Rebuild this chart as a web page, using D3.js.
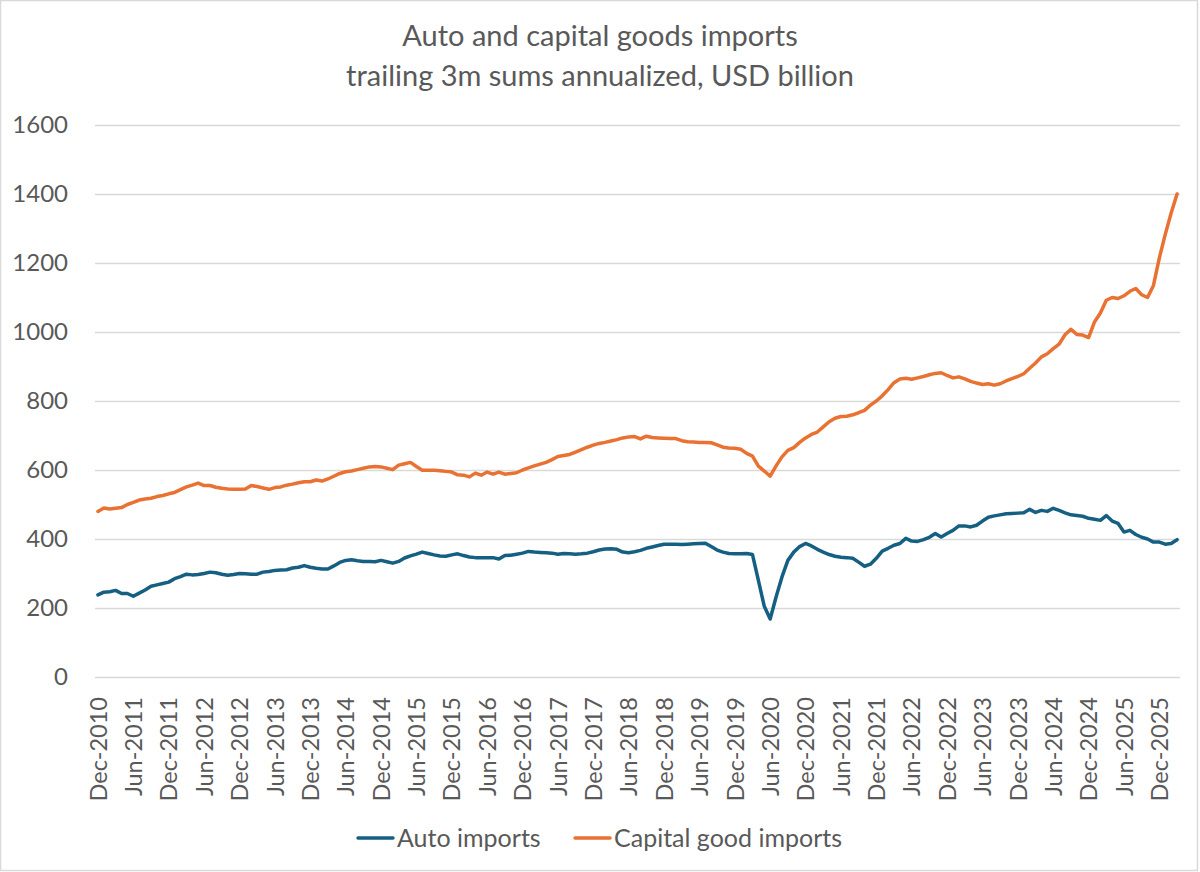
<!DOCTYPE html>
<html>
<head>
<meta charset="utf-8">
<script src="https://cdn.jsdelivr.net/npm/d3@7"></script>
<style>
  html, body { margin: 0; padding: 0; background: #fff; }
  svg { display: block; }
  text { font-family: Lato, "Noto Sans", sans-serif; fill: #595959; }
</style>
</head>
<body>
<div id="chart"></div>
<script>
const TITLE = ['Auto and capital goods imports', 'trailing 3m sums annualized, USD billion'];
const SERIES_NAMES = ['Auto imports', 'Capital good imports'];
const SERIES_COLORS = ['#156082', '#E97132'];

// Monthly categories, Dec-2010 .. Mar-2026
const FIRST_MONTH = new Date(2010, 11, 1);
const LAST_MONTH  = new Date(2026, 2, 1);
const Y_TICKS = [0, 200, 400, 600, 800, 1000, 1200, 1400, 1600];

// Auto imports
const autoImports = [
  238, 246, 247, 251, 242, 242, 234, 243, 252, 263, 267, 271,
  275, 285, 291, 298, 296, 297, 300, 304, 302, 298, 295, 297,
  300, 299, 298, 298, 304, 306, 309, 310, 311, 316, 318, 323,
  318, 315, 313, 313, 322, 332, 338, 340, 337, 335, 335, 334,
  338, 334, 330, 335, 345, 351, 356, 362, 358, 354, 351, 350,
  354, 357, 352, 348, 346, 346, 346, 346, 342, 352, 353, 356,
  359, 364, 362, 361, 360, 359, 356, 358, 357, 356, 357, 359,
  363, 368, 371, 372, 370, 362, 360, 363, 367, 373, 377, 381,
  385, 385, 385, 384, 385, 386, 387, 388, 378, 368, 362, 358,
  357, 357, 358, 355, 280, 205, 168, 232, 290, 338, 362, 378,
  387, 380, 370, 362, 355, 350, 347, 346, 344, 333, 321, 327,
  344, 365, 373, 382, 387, 402, 394, 393, 398, 405, 416, 406,
  416, 425, 438, 438, 435, 440, 452, 463, 467, 470, 473, 474,
  475, 476, 486, 477, 483, 480, 489, 483, 476, 470, 468, 466,
  460, 457, 454, 468, 452, 445, 420, 425, 413, 405, 400, 391,
  391, 385, 387, 398
];

// Capital good imports
const capitalImports = [
  480, 490, 487, 489, 491, 500, 506, 513, 516, 518, 523, 526,
  531, 535, 543, 551, 556, 562, 555, 555, 550, 547, 545, 544,
  544, 545, 555, 552, 548, 544, 549, 551, 556, 559, 563, 566,
  566, 571, 568, 574, 582, 590, 595, 597, 601, 605, 609, 610,
  609, 605, 601, 614, 618, 622, 610, 599, 599, 599, 598, 596,
  594, 586, 585, 580, 591, 585, 594, 588, 594, 588, 590, 592,
  600, 606, 612, 617, 622, 630, 639, 642, 645, 652, 659, 666,
  672, 677, 680, 684, 688, 693, 696, 697, 690, 698, 694, 693,
  692, 691, 691, 685, 682, 681, 680, 680, 679, 673, 666, 664,
  663, 660, 648, 640, 611, 597, 582, 612, 638, 657, 665, 680,
  693, 703, 710, 725, 740, 750, 755, 756, 760, 766, 773, 788,
  800, 815, 833, 853, 864, 866, 863, 867, 871, 876, 880, 882,
  874, 867, 870, 864, 857, 852, 848, 850, 846, 850, 858, 865,
  871, 879, 895, 910, 928, 937, 952, 965, 992, 1008, 993, 991,
  984, 1029, 1055, 1092, 1100, 1097, 1105, 1118, 1126, 1108, 1100, 1135,
  1215, 1283, 1345, 1400
];

const W = 1200, H = 872;
const margin = { top: 125, right: 20, bottom: 195, left: 95 };
const innerW = W - margin.left - margin.right;
const innerH = H - margin.top - margin.bottom;

const months = d3.timeMonth.range(FIRST_MONTH, d3.timeMonth.offset(LAST_MONTH, 1));
const fmt = d3.timeFormat('%b-%Y');
const categories = months.map(fmt);
const tickLabels = categories.filter((d, i) => i % 6 === 0);

const svg = d3.select('#chart').append('svg')
  .attr('width', W)
  .attr('height', H);

// chart area border
svg.append('rect')
  .attr('x', 0.5).attr('y', 0.5)
  .attr('width', W - 3).attr('height', H - 2)
  .attr('fill', '#fff')
  .attr('stroke', '#d9d9d9')
  .attr('stroke-width', 1.5);

const x = d3.scalePoint()
  .domain(categories)
  .range([0, innerW])
  .padding(0.5);

const y = d3.scaleLinear()
  .domain([0, 1600])
  .range([innerH, 0]);

const g = svg.append('g').attr('transform', `translate(${margin.left},${margin.top})`);

// ── Title ────────────────────────────────────────────────────────────────
svg.append('g').selectAll('text')
  .data(TITLE)
  .join('text')
  .attr('x', W / 2)
  .attr('y', (d, i) => 46 + i * 40)
  .attr('text-anchor', 'middle')
  .attr('font-size', '29px')
  .text(d => d);

// ── Y axis + gridlines ───────────────────────────────────────────────────
const yAxis = g.append('g')
  .call(d3.axisLeft(y).tickValues(Y_TICKS).tickSize(-innerW).tickPadding(27).tickFormat(d3.format('d')));
yAxis.select('.domain').remove();
yAxis.selectAll('line').attr('stroke', '#d9d9d9').attr('stroke-width', 1.3);
yAxis.selectAll('text')
  .attr('font-size', '24px')
  .attr('fill', '#595959')
  .attr('font-family', 'Lato, "Noto Sans", sans-serif');

// ── X axis ───────────────────────────────────────────────────────────────
const xAxis = g.append('g')
  .attr('transform', `translate(0,${innerH})`)
  .call(d3.axisBottom(x).tickValues(tickLabels).tickSize(0).tickPadding(0));
xAxis.select('.domain').remove();
xAxis.selectAll('text')
  .attr('font-size', '23.5px')
  .attr('fill', '#595959')
  .attr('font-family', 'Lato, "Noto Sans", sans-serif')
  .attr('transform', 'rotate(-90)')
  .attr('text-anchor', 'end')
  .attr('dy', '0.35em')
  .attr('x', -20)
  .attr('y', 0);

// ── Lines ────────────────────────────────────────────────────────────────
const line = d3.line()
  .x((d, i) => x(categories[i]))
  .y(d => y(d));

[autoImports, capitalImports].forEach((vals, k) => {
  g.append('path')
    .datum(vals)
    .attr('fill', 'none')
    .attr('stroke', SERIES_COLORS[k])
    .attr('stroke-width', 3.5)
    .attr('stroke-linejoin', 'round')
    .attr('stroke-linecap', 'round')
    .attr('d', line);
});

// ── Legend ───────────────────────────────────────────────────────────────
const legendX = [358, 575];
const legend = svg.append('g').attr('transform', 'translate(0,838)');
const items = legend.selectAll('g')
  .data(SERIES_NAMES)
  .join('g')
  .attr('transform', (d, i) => `translate(${legendX[i]},0)`);
items.append('line')
  .attr('x1', 0).attr('x2', 35)
  .attr('stroke', (d, i) => SERIES_COLORS[i])
  .attr('stroke-width', 3.5)
  .attr('stroke-linecap', 'round');
items.append('text')
  .attr('x', 39)
  .attr('dy', '0.35em')
  .attr('font-size', '25px')
  .text(d => d);
</script>
</body>
</html>
